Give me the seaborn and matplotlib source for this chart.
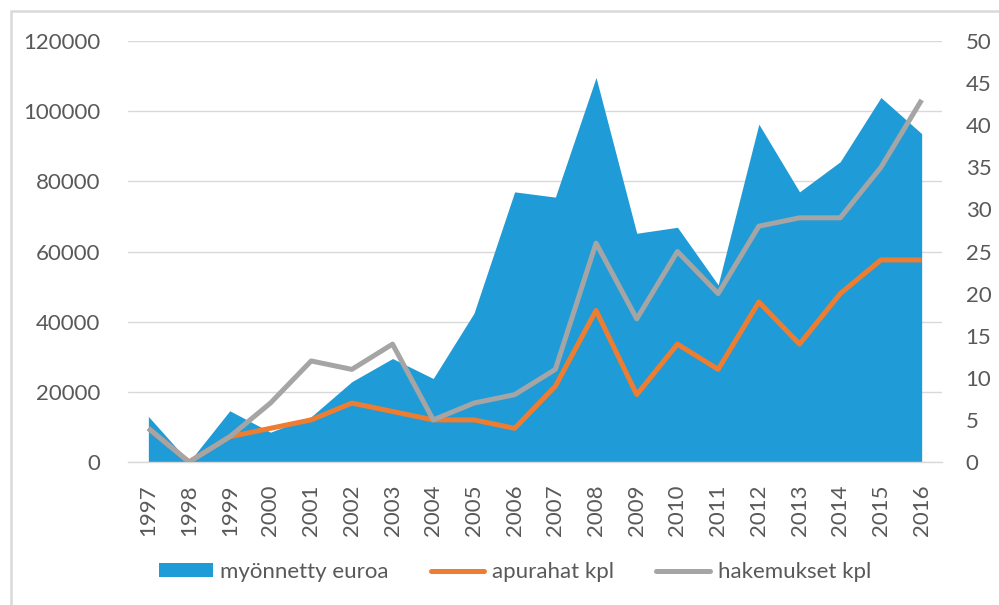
import matplotlib
matplotlib.use("Agg")
import matplotlib.pyplot as plt
from matplotlib.patches import Rectangle, Patch
from matplotlib.lines import Line2D
import seaborn as sns
import pandas as pd
import numpy as np

years = [str(y) for y in range(1997, 2017)]
myonnetty_euroa = [13000, 0, 14600, 8500, 12900, 22900, 29500, 23800, 42400, 77000,
                   75500, 109600, 65200, 66900, 50500, 96300, 77000, 85600, 103900, 93600]
apurahat_kpl = [4, 0, 3, 4, 5, 7, 6, 5, 5, 4, 9, 18, 8, 14, 11, 19, 14, 20, 24, 24]
hakemukset_kpl = [4, 0, 3, 7, 12, 11, 14, 5, 7, 8, 11, 26, 17, 25, 20, 28, 29, 29, 35, 43]

df = pd.DataFrame({"vuosi": years, "pos": np.arange(len(years)),
                   "myonnetty": myonnetty_euroa,
                   "apurahat": apurahat_kpl, "hakemukset": hakemukset_kpl})

sns.set_theme(style="white")
plt.rcParams["font.family"] = ["Lato", "DejaVu Sans"]

BLUE = "#1F9BD7"
ORANGE = "#ED7D31"
GRAY = "#A5A5A5"
TXT = "#595959"
GRID = "#D9D9D9"

fig = plt.figure(figsize=(9.99, 6.05), dpi=100)
fig.patch.set_facecolor("white")
fig.patches.append(Rectangle((11 / 999, -0.1), 1.2, 1 - 11 / 605 + 0.1,
                             transform=fig.transFigure, fill=False,
                             edgecolor=GRID, linewidth=1.8))

ax = fig.add_axes([128 / 999, 143 / 605, 814 / 999, 421 / 605])
ax.fill_between(df["pos"], 0, df["myonnetty"], color=BLUE, linewidth=0, zorder=2)
ax.set_xlim(-0.5, len(years) - 0.5)
ax.set_ylim(0, 120000)
ax.set_yticks(np.arange(0, 120001, 20000))
ax.set_yticklabels([str(v) for v in range(0, 120001, 20000)])
ax.yaxis.grid(True, color=GRID, linewidth=1.0)
ax.set_axisbelow(True)
ax.set_xticks(df["pos"])
ax.set_xticklabels(years, rotation=90)
ax.set_xticks(np.arange(-0.5, len(years), 1.0), minor=True)
ax.tick_params(axis="x", which="major", length=0, pad=16, labelsize=16, labelcolor=TXT)
ax.tick_params(axis="x", which="minor", length=5, width=1, color=GRID, direction="out")
ax.tick_params(axis="y", length=0, pad=20, labelsize=16, labelcolor=TXT)
for s in ["top", "left", "right"]:
    ax.spines[s].set_visible(False)
ax.spines["bottom"].set_color(GRID)
ax.spines["bottom"].set_linewidth(1)
ax.set_xlabel("")
ax.set_ylabel("")

ax2 = ax.twinx()
sns.lineplot(data=df, x="pos", y="apurahat", ax=ax2, color=ORANGE, linewidth=3.6,
             solid_capstyle="butt", zorder=3)
sns.lineplot(data=df, x="pos", y="hakemukset", ax=ax2, color=GRAY, linewidth=3.6,
             solid_capstyle="butt", zorder=4)
ax2.set_ylim(0, 50)
ax2.set_yticks(np.arange(0, 51, 5))
ax2.set_xlim(-0.5, len(years) - 0.5)
ax2.tick_params(axis="y", length=0, pad=17, labelsize=16, labelcolor=TXT)
ax2.grid(False)
for s in ax2.spines.values():
    s.set_visible(False)
ax2.set_xlabel("")
ax2.set_ylabel("")

handles = [Patch(facecolor=BLUE, edgecolor="none"),
           Line2D([], [], color=ORANGE, linewidth=3.6),
           Line2D([], [], color=GRAY, linewidth=3.6)]
labels = ["myönnetty euroa", "apurahat kpl", "hakemukset kpl"]
leg = fig.legend(handles, labels, loc="center", bbox_to_anchor=(515 / 999, 1 - 572 / 605),
                 ncol=3, frameon=False, fontsize=16, labelcolor=TXT,
                 handlelength=2.4, handleheight=0.55, handletextpad=0.35, columnspacing=1.9)

fig.savefig("out.png", dpi=100)
